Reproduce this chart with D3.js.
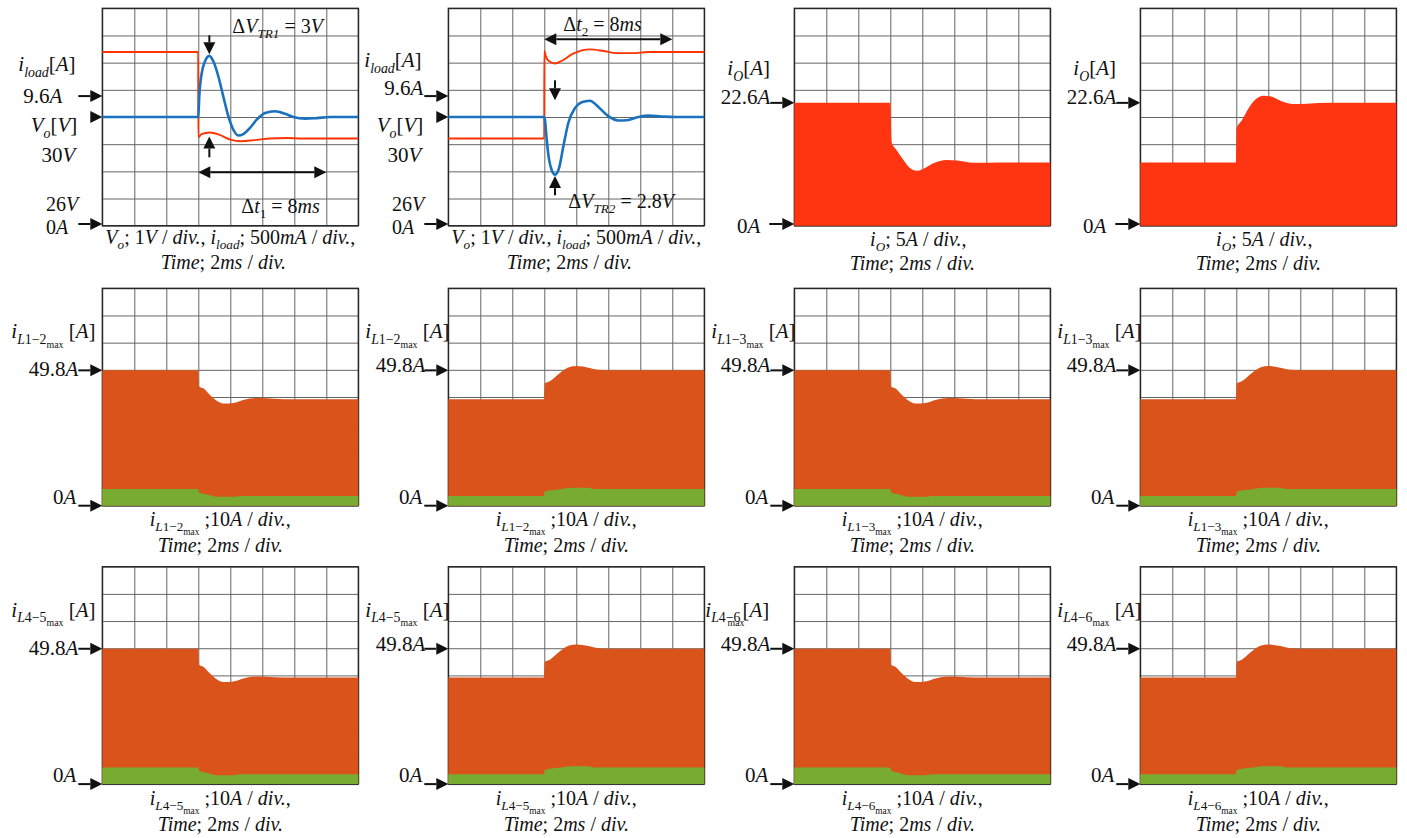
<!DOCTYPE html>
<html>
<head>
<meta charset="utf-8">
<script src="https://cdn.jsdelivr.net/npm/d3@7"></script>
<style>
  body { margin: 0; background: #fff; }
  svg { display: block; }
  text { font-family: "Liberation Serif", "Times New Roman", serif; fill: #111; white-space: pre; }
</style>
</head>
<body>
<svg id="fig" width="1407" height="838"></svg>
<script>
// ---- time base: 8 divisions at 2 ms/div ----
const timeDomain = [0, 16];
const timeTicks = [0, 2, 4, 6, 8, 10, 12, 14, 16];
const divTicks = [0, 1, 2, 3, 4, 5, 6, 7, 8];

// ---- channel ranges (8 divisions each) ----
const voDomain = [26, 34];          // 1 V/div
const iloadDomain = [7.215, 11.215]; // 500 mA/div
const ioDomain = [0, 40];           // 5 A/div
const iLDomain = [0, 80];           // 10 A/div

// ---- marker levels ----
const voMarker = 30;
const iloadMarker = 9.6;
const ioMarker = 22.6;
const iLMarker = 49.8;

// ---- transient timing (ms) ----
const stepTime = 6;
const settleTime = 8;

// ---- output voltage Vo [V] and load current [A], load step-down ----
const voDown = [[0,30],[6.0,30],[6.06,30.76],[6.21,31.6],[6.42,32.05],[6.69,32.25],[6.94,32.05],[7.25,31.5],[7.56,30.76],[7.88,30.02],[8.19,29.53],[8.5,29.32],[8.81,29.37],[9.23,29.6],[9.65,29.9],[10.17,30.15],[10.79,30.21],[11.42,30.12],[11.94,30.0],[12.67,29.94],[13.4,29.96],[14.23,30],[16,30]];
const iloadDown = [[0,10.41],[5.995,10.41],[6.0,8.84],[6.2,8.9],[6.7,8.93],[7.3,8.89],[8.0,8.8],[8.7,8.77],[9.5,8.79],[10.5,8.82],[11.5,8.83],[12.5,8.82],[16,8.82]];

// ---- Vo [V] and load current [A], load step-up ----
const voUp = [[0,30],[6.0,30],[6.04,29.9],[6.15,29.17],[6.3,28.43],[6.46,28.05],[6.67,27.88],[6.92,28.12],[7.19,28.92],[7.5,29.78],[7.92,30.33],[8.33,30.54],[8.85,30.6],[9.38,30.37],[10.0,30.03],[10.63,29.87],[11.15,29.88],[11.88,30.0],[12.5,30.05],[13.33,30.02],[14.17,30],[16,30]];
const iloadUp = [[0,8.82],[5.995,8.82],[6.0,10.43],[6.1,10.33],[6.3,10.24],[6.67,10.2],[7.1,10.25],[7.8,10.38],[8.85,10.46],[9.7,10.43],[10.5,10.39],[11.5,10.39],[12.5,10.41],[16,10.41]];

// ---- output current io [A] ----
const ioDown = [[0,22.6],[6.0,22.6],[6.08,15.4],[6.4,13.9],[6.82,12.1],[7.23,10.6],[7.65,10.1],[8.07,10.5],[8.69,11.5],[9.52,12.1],[10.15,12.0],[11.19,11.6],[12.86,11.65],[16,11.65]];
const ioUp = [[0,11.65],[5.98,11.65],[6.02,17.9],[6.35,19.4],[6.77,21.6],[7.19,23.2],[7.71,23.9],[8.13,23.8],[8.75,23.0],[9.58,22.4],[10.42,22.45],[11.88,22.6],[16,22.6]];

// ---- inductor current envelope [A]: upper (max) and lower (min) ----
const iLDownMax = [[0,49.8],[6.0,49.8],[6.06,43.8],[6.31,43.2],[6.73,40.7],[7.15,38.6],[7.56,37.6],[8.19,37.8],[8.81,38.9],[9.65,39.6],[10.27,39.5],[11.31,39.2],[16,39.2]];
const iLDownMin = [[0,6.1],[6.0,6.1],[6.05,4.9],[6.52,4.2],[7.15,3.3],[8.19,3.3],[8.6,3.6],[16,3.6]];
const iLUpMax = [[0,39.2],[5.98,39.2],[6.03,45.0],[6.35,45.8],[6.88,48.4],[7.5,50.9],[8.02,51.4],[8.75,50.8],[9.38,50.0],[10.5,49.8],[16,49.8]];
const iLUpMin = [[0,3.6],[5.98,3.6],[6.03,5.3],[6.88,6.0],[7.71,6.6],[8.75,6.6],[9.17,6.1],[16,6.1]];

const inductorNames = ['L1−2', 'L1−2', 'L1−3', 'L1−3', 'L4−5', 'L4−5', 'L4−6', 'L4−6'];

// ---- colours ----
const C = { red: '#FF3300', blue: '#1A72BE', fillRed: '#FF3410', orange: '#D9531A', green: '#77AC30', grid: '#666', frame: '#222', ink: '#111' };

// ---- layout ----
const colX = [102.3, 448.3, 794.3, 1140.3];
const rowY = [8.3, 288.3, 566.7];
const W = 256, H = 217.4;

const svg = d3.select('#fig');

// mixed roman / italic / subscript text
function rich(g, x, y, runs, anchor, size) {
  const t = g.append('text').attr('x', x).attr('y', y)
    .attr('text-anchor', anchor || 'start').style('font-size', size + 'px');
  let cur = 0;
  runs.forEach(([txt, st, dx]) => {
    let shift = 0, fs = size;
    if (st[0] === 's') { shift = 0.25 * size; fs = 0.66 * size; }
    if (st[0] === 'm') { shift = 0.44 * size; fs = 0.47 * size; }
    const ts = t.append('tspan').text(txt)
      .attr('dy', (shift - cur).toFixed(2))
      .style('font-size', fs + 'px')
      .style('font-style', st.endsWith('i') ? 'italic' : 'normal');
    if (dx) ts.attr('dx', dx);
    cur = shift;
  });
  return t;
}

// arrow with a filled triangular head at (x2, y2)
function arrow(g, x1, y1, x2, y2, len = 12, hw = 6) {
  const a = Math.atan2(y2 - y1, x2 - x1);
  const bx = x2 - len * Math.cos(a), by = y2 - len * Math.sin(a);
  g.append('line').attr('x1', x1).attr('y1', y1).attr('x2', bx).attr('y2', by)
    .attr('stroke', C.ink).attr('stroke-width', 2);
  const nx = -Math.sin(a) * hw, ny = Math.cos(a) * hw;
  g.append('path')
    .attr('d', `M${x2},${y2}L${bx + nx},${by + ny}L${bx - nx},${by - ny}Z`)
    .attr('fill', C.ink);
}
function dblArrow(g, x1, x2, y) {
  const m = (x1 + x2) / 2;
  arrow(g, m, y, x1, y);
  arrow(g, m, y, x2, y);
}

const unitA = [['[', 'r'], ['A', 'i'], [']', 'r']];
const divRuns = [[' / ', 'r'], ['div.', 'i']];
const timeRuns = [['Time', 'i'], ['; 2', 'r'], ['ms', 'i'], ...divRuns];

function frame(p) {
  const px = colX[p.col], py = rowY[p.row];
  const g = svg.append('g');
  const x = d3.scaleLinear().domain(timeDomain).range([px, px + W]);
  const dv = d3.scaleLinear().domain([0, 8]).range([py + H, py]);
  const gx = g.append('g').attr('transform', `translate(0,${py + H})`)
    .call(d3.axisBottom(x).tickValues(timeTicks).tickSize(-H).tickFormat(''));
  const gy = g.append('g').attr('transform', `translate(${px},0)`)
    .call(d3.axisLeft(dv).tickValues(divTicks).tickSize(-W).tickFormat(''));
  [gx, gy].forEach(a => {
    a.select('.domain').remove();
    a.selectAll('line').attr('stroke', C.grid).attr('stroke-width', 1);
  });
  g.append('rect').attr('x', px).attr('y', py).attr('width', W).attr('height', H)
    .attr('fill', 'none').attr('stroke', C.frame).attr('stroke-width', 1.3);
  return { g, x, px, py };
}

// ---- panels ----
const panels = [
  { row: 0, col: 0, kind: 'scope', vo: voDown, il: iloadDown, dir: 'down' },
  { row: 0, col: 1, kind: 'scope', vo: voUp, il: iloadUp, dir: 'up' },
  { row: 0, col: 2, kind: 'fill', io: ioDown },
  { row: 0, col: 3, kind: 'fill', io: ioUp },
];
for (let k = 0; k < 8; k++) {
  const down = k % 2 === 0;
  panels.push({ row: 1 + Math.floor(k / 4), col: k % 4, kind: 'env',
    hi: down ? iLDownMax : iLUpMax, lo: down ? iLDownMin : iLUpMin,
    name: inductorNames[k], squeeze: k === 6 });
}

panels.forEach(p => {
  const { g, x, px, py } = frame(p);
  const bottom = py + H;

  if (p.kind === 'scope') {
    const yV = d3.scaleLinear().domain(voDomain).range([bottom, py]);
    const yI = d3.scaleLinear().domain(iloadDomain).range([bottom, py]);
    g.append('path').datum(p.il)
      .attr('d', d3.line().x(d => x(d[0])).y(d => yI(d[1])).curve(d3.curveMonotoneX))
      .attr('fill', 'none').attr('stroke', C.red).attr('stroke-width', 1.9);
    g.append('path').datum(p.vo)
      .attr('d', d3.line().x(d => x(d[0])).y(d => yV(d[1])).curve(d3.curveMonotoneX))
      .attr('fill', 'none').attr('stroke', C.blue).attr('stroke-width', 2.6);

    // left-hand markers
    const off = p.col === 0 ? 0 : 1;
    arrow(g, px - 24, yI(iloadMarker), px, yI(iloadMarker));
    arrow(g, px - 12, yV(voMarker), px, yV(voMarker));
    arrow(g, px - 24, bottom - 1.7, px, bottom - 1.7);
    rich(g, px - 84, py + (off ? 59 : 63), [['i', 'i'], ['load', 'si'], ...unitA], 'start', 21);
    rich(g, off ? px - 25 : px - 40, yI(iloadMarker) + (off ? -1 : 7), [['9.6', 'r'], ['A', 'i']], 'end', 21);
    rich(g, px - 25, py + 124, [['V', 'i'], ['o', 'si'], ['[', 'r'], ['V', 'i'], [']', 'r']], 'end', 21);
    rich(g, px - 27, py + 154, [['30', 'r'], ['V', 'i']], 'end', 21);
    rich(g, px - 24, py + 203, [['26', 'r'], ['V', 'i']], 'end', 20);
    rich(g, px - 34, py + 226, [['0', 'r'], ['A', 'i']], 'end', 20);

    // bottom caption
    rich(g, px + 128, py + 236, [['V', 'i'], ['o', 'si'], ['; 1', 'r'], ['V', 'i'], ...divRuns, [', ', 'r'],
      ['i', 'i'], ['load', 'si'], ['; 500', 'r'], ['mA', 'i'], ...divRuns, [',', 'r']], 'middle', 20);
    rich(g, px + 121, py + 261, timeRuns, 'middle', 20);

    // transient annotations
    const xs = x(stepTime), xe = x(stepTime + settleTime);
    if (p.dir === 'down') {
      const pk = d3.greatest(p.vo, d => d[1]);
      const ipk = d3.greatest(p.il.filter(d => d[0] > stepTime && d[0] < 8), d => d[1]);
      arrow(g, x(pk[0]), py + 27, x(pk[0]), yV(pk[1]) - 1.5);
      arrow(g, x(pk[0]), py + 149, x(pk[0]), yI(ipk[1]) + 4);
      dblArrow(g, xs, xe, py + 164);
      rich(g, px + 130, py + 25, [['Δ', 'r'], ['V', 'i'], ['TR1', 'si'], [' = 3', 'r'], ['V', 'i']], 'start', 20);
      rich(g, px + 139, py + 205, [['Δ', 'r'], ['t', 'i'], ['1', 'sr'], [' = 8', 'r'], ['ms', 'i']], 'start', 20);
    } else {
      const tr = d3.least(p.vo, d => d[1]);
      dblArrow(g, xs, xe, py + 31);
      arrow(g, x(tr[0]), py + 72, x(tr[0]), py + 92);
      arrow(g, x(tr[0]), py + 187, x(tr[0]), yV(tr[1]) + 1.5);
      rich(g, px + 115, py + 23, [['Δ', 'r'], ['t', 'i'], ['2', 'sr'], [' = 8', 'r'], ['ms', 'i']], 'start', 20);
      rich(g, px + 120, py + 200, [['Δ', 'r'], ['V', 'i'], ['TR2', 'si'], [' = 2.8', 'r'], ['V', 'i']], 'start', 20);
    }
  }

  if (p.kind === 'fill') {
    const y = d3.scaleLinear().domain(ioDomain).range([bottom, py]);
    g.append('path').datum(p.io)
      .attr('d', d3.area().x(d => x(d[0])).y0(bottom).y1(d => y(d[1])).curve(d3.curveMonotoneX))
      .attr('fill', C.fillRed);
    arrow(g, px - 24, y(ioMarker), px, y(ioMarker));
    arrow(g, px - 25, bottom - 1.7, px, bottom - 1.7);
    rich(g, px - 67, py + 67, [['i', 'i'], ['O', 'si'], ...unitA], 'start', 21);
    rich(g, px - 24, y(ioMarker) + 1, [['22.6', 'r'], ['A', 'i']], 'end', 21);
    rich(g, px - 34, py + 225, [['0', 'r'], ['A', 'i']], 'end', 21);
    rich(g, px + 124, py + 238, [['i', 'i'], ['O', 'si'], ['; 5', 'r'], ['A', 'i'], ...divRuns, [',', 'r']], 'middle', 20);
    rich(g, px + 118, py + 262, timeRuns, 'middle', 20);
  }

  if (p.kind === 'env') {
    const y = d3.scaleLinear().domain(iLDomain).range([bottom, py]);
    g.append('path').datum(p.hi)
      .attr('d', d3.area().x(d => x(d[0])).y0(bottom).y1(d => y(d[1])).curve(d3.curveMonotoneX))
      .attr('fill', C.orange);
    g.append('path').datum(p.lo)
      .attr('d', d3.area().x(d => x(d[0])).y0(bottom).y1(d => y(d[1])).curve(d3.curveMonotoneX))
      .attr('fill', C.green);
    arrow(g, px - 24, y(iLMarker), px, y(iLMarker));
    arrow(g, px - 24, bottom, px, bottom);
    const sub = p.name.slice(1);
    const nameRuns = p.squeeze
      ? [['i', 'i'], ['L', 'si'], [sub, 'sr'], ['max', 'm', -13], ['[', 'r', -2], ['A', 'i'], [']', 'r']]
      : [['i', 'i'], ['L', 'si'], [sub, 'sr'], ['max', 'm'], [' [', 'r'], ['A', 'i'], [']', 'r']];
    const lx = p.squeeze ? px - 89 : (p.col === 0 ? px - 91 : px - 83);
    rich(g, lx, py + 50, nameRuns, 'start', 21);
    rich(g, p.col === 1 ? px - 23 : px - 24, y(iLMarker) + (p.col === 0 ? 6 : 2), [['49.8', 'r'], ['A', 'i']], 'end', 21);
    rich(g, px - 26, bottom - 2, [['0', 'r'], ['A', 'i']], 'end', 21);
    rich(g, px + 118, py + 238, [['i', 'i'], ['L', 'si'], [sub, 'sr'], ['max', 'm'], [' ;10', 'r'], ['A', 'i'], ...divRuns, [',', 'r']], 'middle', 20);
    rich(g, px + 118, py + 264, timeRuns, 'middle', 20);
  }
});
</script>
</body>
</html>
